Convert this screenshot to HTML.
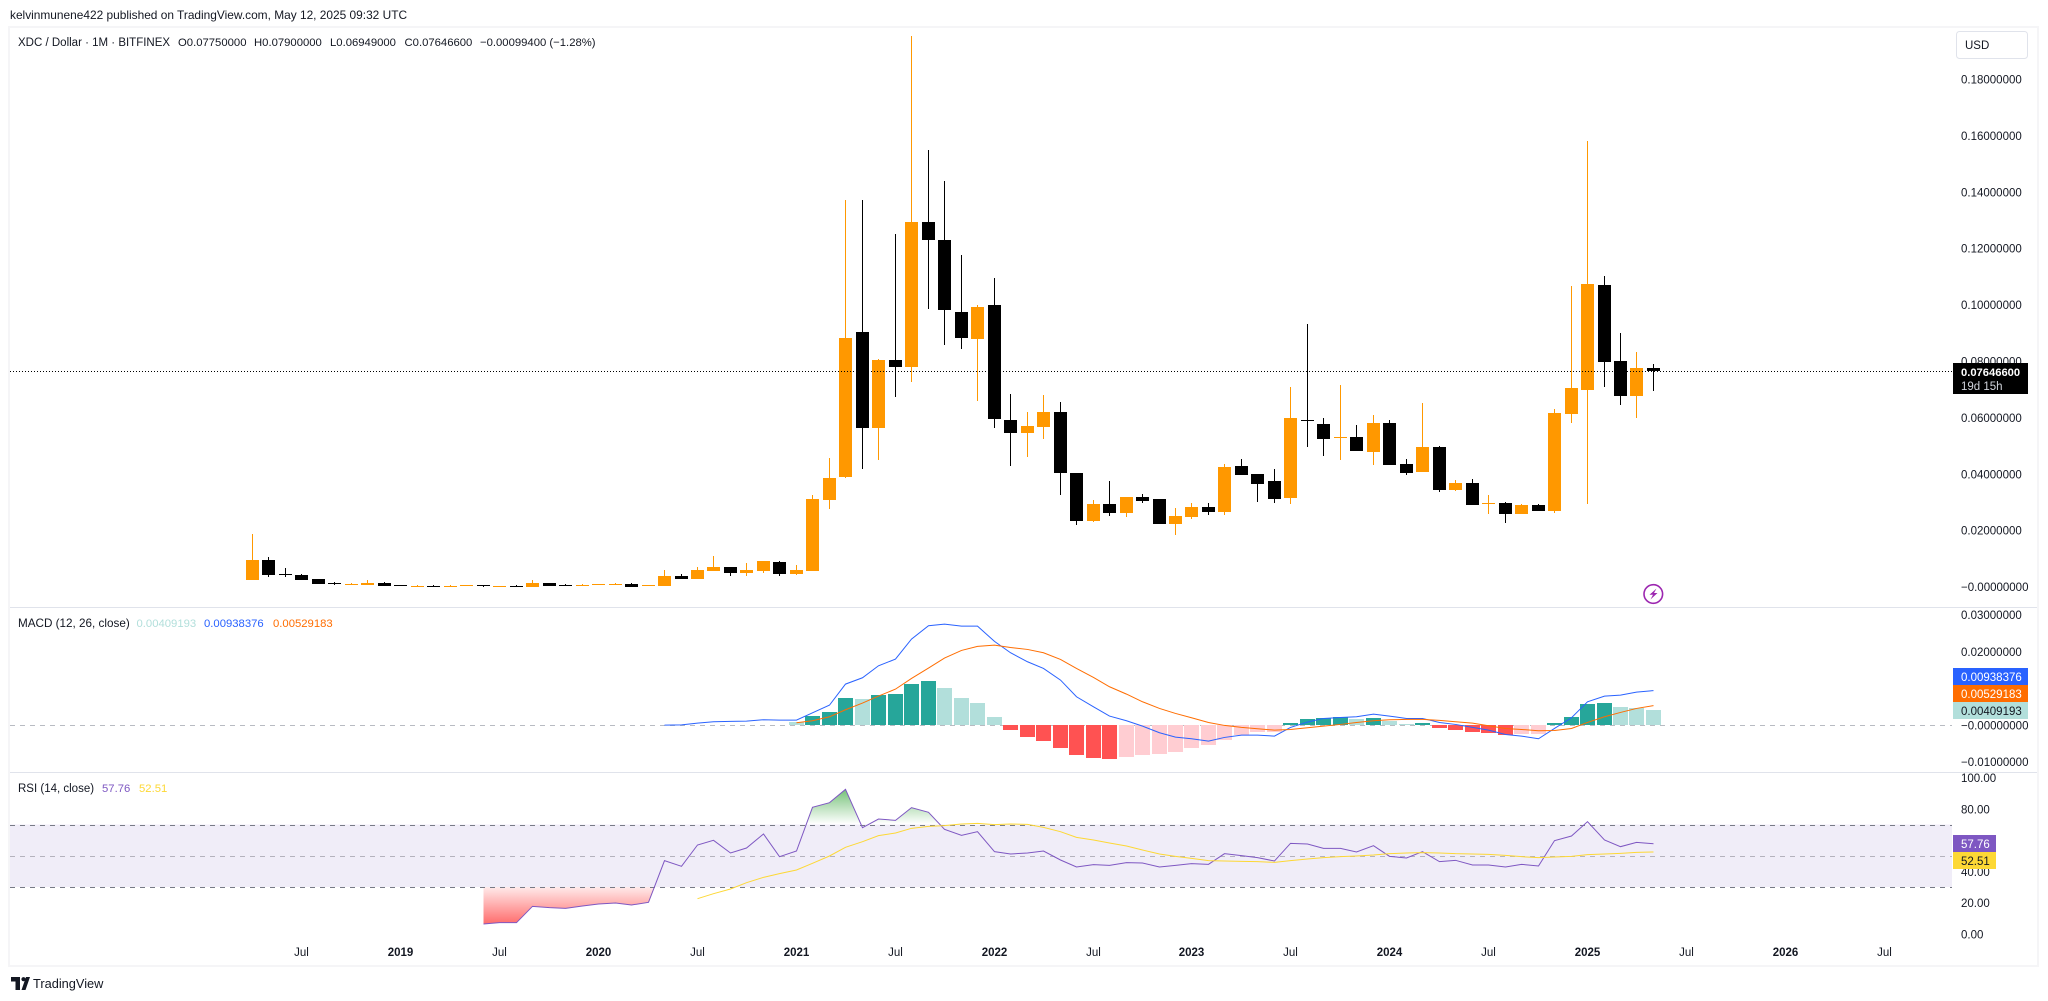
<!DOCTYPE html>
<html>
<head>
<meta charset="utf-8">
<title>XDC / Dollar chart</title>
<style>
html,body{margin:0;padding:0;background:#fff;width:2048px;height:1001px;overflow:hidden}
svg{display:block;font-family:"Liberation Sans",sans-serif}
text{font-size:11.5px;fill:#131722}
</style>
</head>
<body>
<svg id="chart" xmlns="http://www.w3.org/2000/svg" width="2048" height="1001" viewBox="0 0 2048 1001">
  <defs>
    <linearGradient id="oversold-gradient" gradientUnits="userSpaceOnUse" x1="0" y1="887" x2="0" y2="924">
      <stop offset="0" stop-color="#ff5252" stop-opacity="0.12"/>
      <stop offset="1" stop-color="#ff5252" stop-opacity="0.85"/>
    </linearGradient>
    <linearGradient id="overbought-gradient" gradientUnits="userSpaceOnUse" x1="0" y1="824" x2="0" y2="790">
      <stop offset="0" stop-color="#4caf50" stop-opacity="0"/>
      <stop offset="1" stop-color="#4caf50" stop-opacity="0.75"/>
    </linearGradient>
    <clipPath id="clip-oversold"><rect x="10" y="887" width="1942" height="60"/></clipPath>
    <clipPath id="clip-overbought"><rect x="10" y="775" width="1942" height="49.6"/></clipPath>
  </defs>

  <text x="10" y="19" style="font-size:11.9px">kelvinmunene422 published on TradingView.com, May 12, 2025 09:32 UTC</text>

  <g fill="#f5f5f7" shape-rendering="crispEdges">
    <rect x="8" y="26" width="2031" height="2"/>
    <rect x="8" y="26" width="2" height="941"/>
    <rect x="2037" y="26" width="2" height="941"/>
    <rect x="8" y="965" width="2031" height="2"/>
  </g>
  <g fill="#e0e3eb" shape-rendering="crispEdges">
    <rect x="10" y="607" width="2027" height="1"/>
    <rect x="10" y="772" width="2027" height="1"/>
  </g>

  <g id="rsi-pane"></g>
  <g id="macd-pane"></g>
  <g id="candles" shape-rendering="crispEdges"></g>
  <g id="axis-labels"></g>

  <line x1="10" y1="371.5" x2="1953" y2="371.5" stroke="#000" stroke-width="1" stroke-dasharray="1 2"/>

  <g>
    <text x="18" y="46">XDC / Dollar · 1M · BITFINEX</text>
    <text x="178" y="46" style="font-size:11.3px">O0.07750000</text>
    <text x="254" y="46" style="font-size:11.3px">H0.07900000</text>
    <text x="330" y="46" style="font-size:11.3px">L0.06949000</text>
    <text x="404.5" y="46" style="font-size:11.3px">C0.07646600</text>
    <text x="480" y="46" style="font-size:11.3px">−0.00099400 (−1.28%)</text>
  </g>
  <g>
    <text x="18" y="627" style="font-size:11.7px">MACD (12, 26, close)</text>
    <text x="136.5" y="627" style="fill:#b2dfdb;font-size:11.3px">0.00409193</text>
    <text x="204" y="627" style="fill:#2962ff;font-size:11.3px">0.00938376</text>
    <text x="273" y="627" style="fill:#ff6d00;font-size:11.3px">0.00529183</text>
  </g>
  <g>
    <text x="18" y="792">RSI (14, close)</text>
    <text x="102" y="792" style="fill:#7e57c2;font-size:11.3px">57.76</text>
    <text x="139" y="792" style="fill:#fdd835;font-size:11.3px">52.51</text>
  </g>

  <g>
    <rect x="1956.5" y="31.5" width="71" height="27" rx="3" fill="#fff" stroke="#e0e3eb"/>
    <text x="1965" y="49">USD</text>
  </g>

  <g>
    <rect x="1953" y="363" width="75" height="31" fill="#000" shape-rendering="crispEdges"/>
    <text x="1961" y="376" style="fill:#fff;font-weight:bold;font-size:11.2px">0.07646600</text>
    <text x="1961" y="390" style="fill:#d1d4dc">19d 15h</text>
  </g>
  <g>
    <rect x="1953" y="668" width="75" height="17" fill="#2962ff" shape-rendering="crispEdges"/>
    <text x="1961" y="681" style="fill:#fff">0.00938376</text>
    <rect x="1953" y="685" width="75" height="17" fill="#ff6d00" shape-rendering="crispEdges"/>
    <text x="1961" y="698" style="fill:#fff">0.00529183</text>
    <rect x="1953" y="702" width="75" height="17" fill="#b2dfdb" shape-rendering="crispEdges"/>
    <text x="1961" y="715" style="fill:#131722">0.00409193</text>
  </g>
  <g>
    <rect x="1953" y="835" width="43" height="17" fill="#7e57c2" shape-rendering="crispEdges"/>
    <text x="1961" y="848" style="fill:#fff">57.76</text>
    <rect x="1953" y="852" width="43" height="17" fill="#fdd835" shape-rendering="crispEdges"/>
    <text x="1961" y="865" style="fill:#131722">52.51</text>
  </g>

  <g>
    <circle cx="1653.3" cy="594" r="9.3" fill="#fff" stroke="#9c27b0" stroke-width="1.6"/>
    <path d="M1656.5 588.5 L1649.5 594.8 L1653 594.8 L1650.5 599.5 L1657.5 593 L1654 593 Z" fill="#9c27b0"/>
  </g>

  <g>
    <path d="M11 977 H20 V990 H15.5 V981.5 H11 Z M21.5 990 L26 977 H30 L25.5 990 Z" fill="#131722"/>
    <circle cx="23.5" cy="979.2" r="2.1" fill="#131722"/>
    <text x="33" y="988" style="font-size:12.8px">TradingView</text>
  </g>
</svg>

<script>
// Monthly candles from April 2018 to May 2025
const opens = [0.00241,0.00950,0.00454,0.00418,0.00277,0.00135,0.00064,0.00064,0.00135,0.00064,
0.00002,0.00028,0.00002,0.00028,0.00064,0.00002,0.00028,0.00002,0.00135,0.00064,
0.00028,0.00064,0.00064,0.00099,0.00028,0.00028,0.00383,0.00277,0.00560,0.00702,
0.00489,0.00560,0.00879,0.00454,0.00560,0.03078,0.03894,0.09035,0.05631,0.08042,
0.07794,0.12936,0.12298,0.09745,0.08787,0.09993,0.05915,0.05454,0.05667,0.06199,
0.04035,0.02333,0.02936,0.02617,0.03184,0.03113,0.02227,0.02475,0.02830,0.02652,
0.04284,0.04000,0.03752,0.03149,0.05915,0.05773,0.05277,0.05312,0.04780,0.05809,
0.04355,0.04071,0.04957,0.03433,0.03681,0.02936,0.02972,0.02582,0.02901,0.02688,
0.06128,0.06979,0.10702,0.08007,0.06766,0.07750];
const highs = [0.01872,0.01057,0.00667,0.00454,0.00277,0.00170,0.00135,0.00241,0.00170,0.00064,
0.00064,0.00064,0.00064,0.00064,0.00064,0.00028,0.00064,0.00241,0.00135,0.00099,
0.00099,0.00099,0.00135,0.00135,0.00064,0.00596,0.00454,0.00702,0.01092,0.00702,
0.00844,0.00915,0.00915,0.00773,0.03255,0.04567,0.13716,0.13716,0.08078,0.12511,
0.19532,0.15489,0.14390,0.11766,0.09993,0.10950,0.06837,0.06199,0.06801,0.06553,
0.04035,0.03078,0.03752,0.03184,0.03291,0.03113,0.02794,0.02972,0.02972,0.04355,
0.04532,0.04000,0.04177,0.07085,0.09319,0.05986,0.07156,0.05738,0.06092,0.05915,
0.04532,0.06518,0.04993,0.03787,0.03823,0.03255,0.03007,0.02936,0.02936,0.06305,
0.10667,0.15808,0.11021,0.09000,0.08326,0.07900];
const lows = [0.00241,0.00348,0.00348,0.00241,0.00099,0.00064,0.00064,0.00064,0.00028,0.00028,
0.00002,0.00002,0.00002,0.00028,0.00002,0.00002,0.00002,0.00002,0.00028,0.00028,
0.00028,0.00064,0.00064,0.00002,0.00028,0.00028,0.00277,0.00277,0.00560,0.00383,
0.00383,0.00489,0.00383,0.00418,0.00560,0.02759,0.03858,0.04177,0.04496,0.06730,
0.07262,0.09851,0.08574,0.08433,0.06589,0.05631,0.04284,0.04603,0.05241,0.03255,
0.02191,0.02298,0.02511,0.02475,0.02972,0.02227,0.01837,0.02404,0.02546,0.02546,
0.03965,0.03007,0.02972,0.02936,0.04957,0.04638,0.04496,0.04816,0.04319,0.04319,
0.03965,0.04071,0.03362,0.03397,0.02901,0.02582,0.02262,0.02582,0.02688,0.02617,
0.05809,0.02936,0.07085,0.06447,0.05986,0.06949];
const closes = [0.00950,0.00418,0.00418,0.00241,0.00099,0.00099,0.00099,0.00135,0.00028,0.00028,
0.00028,0.00002,0.00028,0.00064,0.00028,0.00028,0.00002,0.00135,0.00028,0.00028,
0.00064,0.00099,0.00099,0.00002,0.00064,0.00383,0.00277,0.00596,0.00702,0.00489,
0.00596,0.00915,0.00454,0.00596,0.03113,0.03858,0.08823,0.05631,0.08042,0.07794,
0.12936,0.12298,0.09816,0.08823,0.09922,0.05950,0.05454,0.05702,0.06199,0.04035,
0.02333,0.02936,0.02617,0.03184,0.03043,0.02227,0.02511,0.02830,0.02652,0.04248,
0.03965,0.03645,0.03113,0.05986,0.05879,0.05241,0.05312,0.04816,0.05809,0.04319,
0.04035,0.04957,0.03433,0.03681,0.02901,0.02972,0.02582,0.02901,0.02688,0.06163,
0.07050,0.10738,0.07972,0.06766,0.07750,0.076466];

// MACD series; each starts at the month index in its *Start constant
const macdStart = 25;
const macdLine = [0.00000,0.00005,0.00054,0.00091,0.00100,0.00109,0.00145,0.00136,0.00136,0.00335,
0.00543,0.01114,0.01286,0.01612,0.01793,0.02337,0.02699,0.02745,0.02690,0.02690,
0.02274,0.01966,0.01721,0.01540,0.01223,0.00770,0.00498,0.00245,0.00118,-0.00027,
-0.00208,-0.00326,-0.00371,-0.00435,-0.00335,-0.00272,-0.00272,-0.00299,-0.00063,0.00082,
0.00181,0.00208,0.00226,0.00299,0.00245,0.00181,0.00181,0.00072,0.00018,-0.00063,
-0.00136,-0.00254,-0.00299,-0.00371,-0.00091,0.00199,0.00634,0.00788,0.00815,0.00897,0.00938];
const signalStart = 33;
const signalLine = [0.00063,0.00118,0.00226,0.00417,0.00598,0.00788,0.00978,0.01268,0.01549,0.01821,
0.02029,0.02138,0.02174,0.02110,0.02056,0.01966,0.01784,0.01540,0.01295,0.01042,
0.00842,0.00634,0.00453,0.00317,0.00199,0.00072,-0.00009,-0.00063,-0.00100,-0.00136,
-0.00118,-0.00072,-0.00027,0.00018,0.00072,0.00118,0.00145,0.00154,0.00154,0.00127,
0.00091,0.00054,-0.00018,-0.00091,-0.00118,-0.00154,-0.00145,-0.00091,0.00072,0.00226,
0.00344,0.00453,0.00529];
const histogram = [0.00073,0.00236,0.00345,0.00725,0.00720,0.00829,0.00834,0.01106,0.01187,0.00997,
0.00725,0.00590,0.00209,-0.00136,-0.00326,-0.00435,-0.00625,-0.00815,-0.00897,-0.00924,
-0.00869,-0.00815,-0.00788,-0.00734,-0.00625,-0.00543,-0.00408,-0.00272,-0.00196,-0.00185,
0.00054,0.00163,0.00190,0.00217,0.00163,0.00190,0.00109,0.00027,0.00054,-0.00082,
-0.00136,-0.00190,-0.00217,-0.00272,-0.00250,-0.00239,0.00054,0.00217,0.00571,0.00598,
0.00489,0.00462,0.00409];

// RSI series
const rsiStart = 14;
const rsiValues = [6.40,7.25,7.25,17.71,16.85,16.43,17.92,19.20,19.84,18.56,
20.27,46.93,43.31,56.96,59.95,51.84,55.04,64.00,49.49,53.12,
81.07,84.05,92.59,68.05,73.60,72.75,80.85,77.87,66.99,63.15,
65.49,52.69,51.20,51.84,53.12,47.36,42.88,44.37,43.95,45.65,
45.44,42.88,43.95,45.01,44.59,51.41,50.13,48.85,46.72,58.03,
57.60,54.83,54.83,52.48,56.53,49.71,48.64,52.69,46.29,47.15,
44.16,44.16,42.88,44.59,43.52,59.73,62.72,71.89,60.16,55.89,
58.67,57.76];
const rsiMaStart = 27;
const rsiMaValues = [22.61,25.81,28.80,32.85,36.27,38.61,40.96,45.23,49.92,55.47,
59.09,62.93,64.64,67.63,68.91,69.33,70.40,70.83,69.97,70.40,
70.19,68.27,65.49,61.87,60.16,58.24,56.32,53.76,51.20,49.71,
48.43,46.93,46.72,46.51,46.29,45.87,46.93,48.00,48.85,49.49,
49.92,50.56,51.41,51.84,52.05,51.84,51.41,51.20,50.99,50.35,
49.49,48.85,49.28,49.71,50.77,51.20,51.63,52.27,52.51];

// Axis ticks
const priceTicks = [0.18,0.16,0.14,0.12,0.10,0.08,0.06,0.04,0.02,0];
const priceTickLabels = ["0.18000000","0.16000000","0.14000000","0.12000000","0.10000000","0.08000000","0.06000000","0.04000000","0.02000000","−0.00000000"];
const macdTicks = [0.03,0.02,0,-0.01];
const macdTickLabels = ["0.03000000","0.02000000","−0.00000000","−0.01000000"];
const rsiTicks = [100,80,40,20,0];
const rsiTickLabels = ["100.00","80.00","40.00","20.00","0.00"];
const timeTickMonths = [[2018,7],[2019,1],[2019,7],[2020,1],[2020,7],[2021,1],[2021,7],[2022,1],[2022,7],[2023,1],[2023,7],[2024,1],[2024,7],[2025,1],[2025,7],[2026,1],[2026,7]];
const timeTickLabels = ["Jul","2019","Jul","2020","Jul","2021","Jul","2022","Jul","2023","Jul","2024","Jul","2025","Jul","2026","Jul"];

// Axis functions
const xScale = function (i) { return Math.round(252 + 16.482 * i); };
const monthIndex = function (year, month) { return (year - 2018) * 12 + (month - 4); };
const yPrice = function (p) { return 586.8 - 2820 * p; };
const yMacd = function (v) { return 725.1 - 3680 * v; };
const yRsi = function (v) { return 934 - 1.5625 * v; };

const NS = 'http://www.w3.org/2000/svg';
function make(tag, attrs, parent) {
  const el = document.createElementNS(NS, tag);
  for (const k in attrs) el.setAttribute(k, attrs[k]);
  parent.appendChild(el);
  return el;
}
function linePoints(values, start, yFn) {
  return values.map(function (v, k) {
    return (xScale(start + k) + 0.5) + ',' + yFn(v).toFixed(2);
  }).join(' ');
}

// Candles
const candleGroup = document.getElementById('candles');
opens.forEach(function (o, i) {
  const color = closes[i] >= o ? '#ff9800' : '#000000';
  const cx = xScale(i);
  const top = Math.round(yPrice(Math.max(o, closes[i])));
  const bottom = Math.round(yPrice(Math.min(o, closes[i])));
  const hi = Math.round(yPrice(highs[i]));
  const lo = Math.round(yPrice(lows[i]));
  const wick = make('rect', { x: cx, y: hi, width: 1, height: Math.max(lo - hi, 1), fill: color }, candleGroup);
  
  
  const body = make('rect', { x: cx - 6, y: top, width: 13, height: Math.max(bottom - top, 1), fill: color }, candleGroup);
  
  
});

// MACD pane
const macdPane = document.getElementById('macd-pane');
const macdZero = make('line', { x1: 10, x2: 1952, y1: 725.5, y2: 725.5, stroke: '#b8bbc2', 'stroke-width': 1, 'stroke-dasharray': '5 5' }, macdPane);


histogram.forEach(function (v, k) {
  const prev = k > 0 ? histogram[k - 1] : null;
  let color;
  if (v >= 0) color = prev !== null && v > prev ? '#26a69a' : '#b2dfdb';
  else color = prev !== null && v < prev ? '#ff5252' : '#ffcdd2';
  const cx = xScale(signalStart + k);
  const y0 = Math.round(yMacd(0));
  const yv = Math.round(yMacd(v));
  const bar = make('rect', { x: cx - 7, y: Math.min(y0, yv), width: 15, height: Math.max(Math.abs(yv - y0), 1), fill: color, 'shape-rendering': 'crispEdges' }, macdPane);
  
  
});
const macdPath = make('polyline', { points: linePoints(macdLine, macdStart, yMacd), fill: 'none', stroke: '#2962ff', 'stroke-width': 1 }, macdPane);


const signalPath = make('polyline', { points: linePoints(signalLine, signalStart, yMacd), fill: 'none', stroke: '#ff6d00', 'stroke-width': 1 }, macdPane);



// RSI pane
const rsiPane = document.getElementById('rsi-pane');
const band = make('rect', { x: 10, y: yRsi(70), width: 1942, height: yRsi(30) - yRsi(70), fill: '#f0edf8', 'shape-rendering': 'crispEdges' }, rsiPane);


const firstX = xScale(rsiStart) + 0.5;
const lastX = xScale(rsiStart + rsiValues.length - 1) + 0.5;
const rsiPts = linePoints(rsiValues, rsiStart, yRsi);
const lowFill = make('polygon', { points: rsiPts + ' ' + lastX + ',' + yRsi(30) + ' ' + firstX + ',' + yRsi(30), fill: 'url(#oversold-gradient)', 'clip-path': 'url(#clip-oversold)' }, rsiPane);


const highFill = make('polygon', { points: rsiPts + ' ' + lastX + ',' + yRsi(70) + ' ' + firstX + ',' + yRsi(70), fill: 'url(#overbought-gradient)', 'clip-path': 'url(#clip-overbought)' }, rsiPane);


const upperBand = make('line', { x1: 10, x2: 1952, y1: Math.round(yRsi(70)) + 0.5, y2: Math.round(yRsi(70)) + 0.5, stroke: '#787b86', 'stroke-dasharray': '5 5' }, rsiPane);


const midBand = make('line', { x1: 10, x2: 1952, y1: Math.round(yRsi(50)) + 0.5, y2: Math.round(yRsi(50)) + 0.5, stroke: '#b4b2bd', 'stroke-dasharray': '5 5' }, rsiPane);


const lowerBand = make('line', { x1: 10, x2: 1952, y1: Math.round(yRsi(30)) + 0.5, y2: Math.round(yRsi(30)) + 0.5, stroke: '#787b86', 'stroke-dasharray': '5 5' }, rsiPane);


const rsiPath = make('polyline', { points: rsiPts, fill: 'none', stroke: '#7e57c2', 'stroke-width': 1 }, rsiPane);


const rsiMaPath = make('polyline', { points: linePoints(rsiMaValues, rsiMaStart, yRsi), fill: 'none', stroke: '#fdd835', 'stroke-width': 1 }, rsiPane);



// Axis labels
const axisGroup = document.getElementById('axis-labels');
priceTicks.forEach(function (v, k) {
  const t = make('text', { x: 1961, y: yPrice(v) + 4.3 }, axisGroup);
  t.textContent = priceTickLabels[k];
  
  
});
macdTicks.forEach(function (v, k) {
  const t = make('text', { x: 1961, y: yMacd(v) + 4.3 }, axisGroup);
  t.textContent = macdTickLabels[k];
  
  
});
rsiTicks.forEach(function (v, k) {
  const t = make('text', { x: 1961, y: yRsi(v) + 4.3 }, axisGroup);
  t.textContent = rsiTickLabels[k];
  
  
});
timeTickMonths.forEach(function (ym, k) {
  const t = make('text', { x: xScale(monthIndex(ym[0], ym[1])) + 0.5, y: 956, 'text-anchor': 'middle' }, axisGroup);
  t.textContent = timeTickLabels[k];
  if (ym[1] === 1) t.setAttribute('style', 'font-weight:bold');
  
  
});
</script>
</body>
</html>
